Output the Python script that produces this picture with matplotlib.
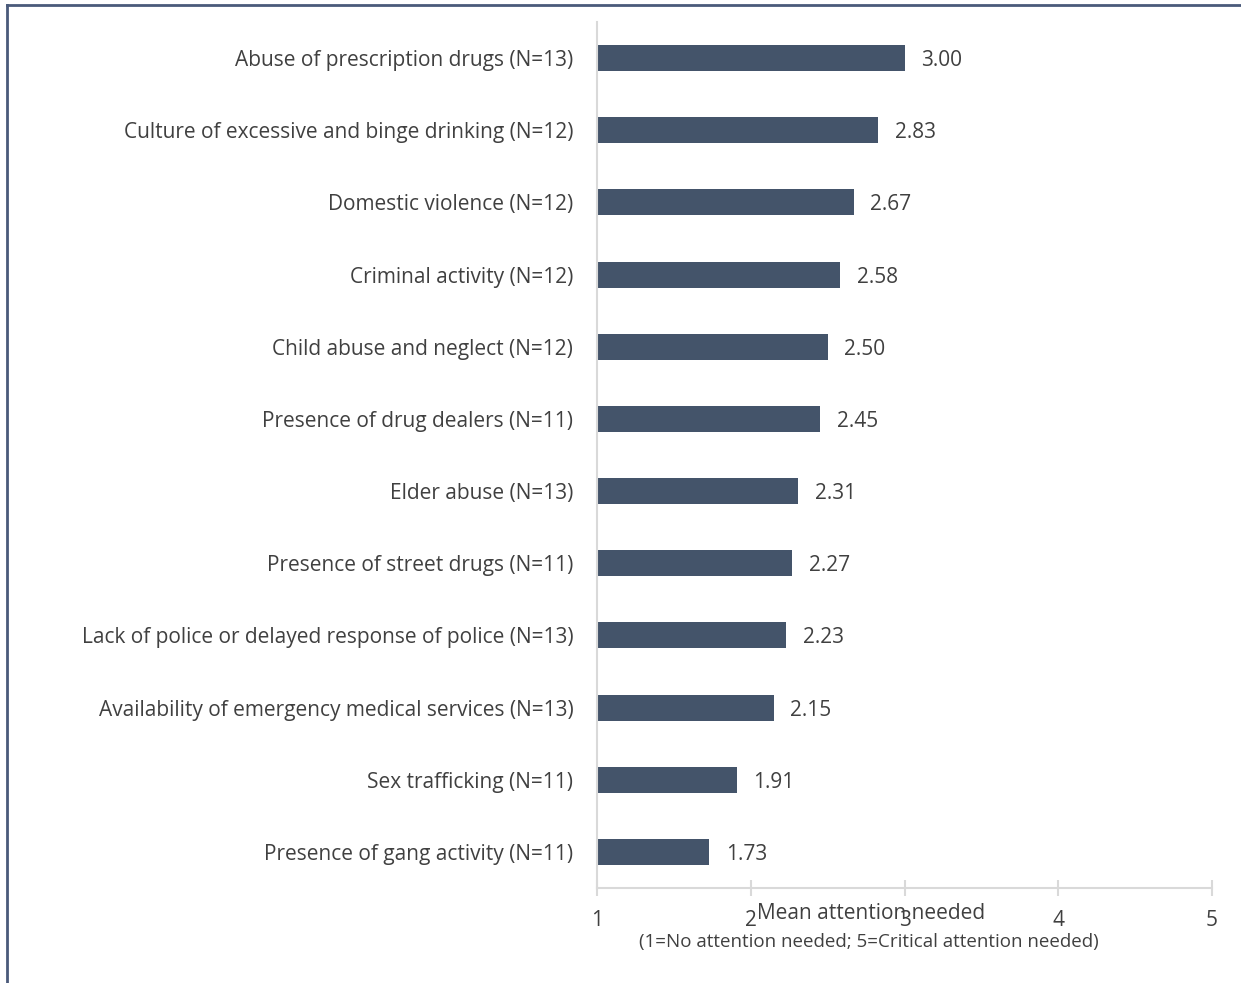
import matplotlib.pyplot as plt
from matplotlib.lines import Line2D

categories = [
    "Abuse of prescription drugs (N=13)",
    "Culture of excessive and binge drinking (N=12)",
    "Domestic violence (N=12)",
    "Criminal activity (N=12)",
    "Child abuse and neglect (N=12)",
    "Presence of drug dealers (N=11)",
    "Elder abuse (N=13)",
    "Presence of street drugs (N=11)",
    "Lack of police or delayed response of police (N=13)",
    "Availability of emergency medical services (N=13)",
    "Sex trafficking (N=11)",
    "Presence of gang activity (N=11)",
]
means = [3.00, 2.83, 2.67, 2.58, 2.50, 2.45, 2.31, 2.27, 2.23, 2.15, 1.91, 1.73]
x_ticks = [1, 2, 3, 4, 5]

bar_color = "#44546a"
text_color = "#404040"
axis_color = "#d9d9d9"

plt.rcParams['font.family'] = ['Open Sans', 'DejaVu Sans']
fs = 15

fig = plt.figure(figsize=(12.41, 9.83), dpi=100)
ax = fig.add_axes([0.481, 0.0966, 0.4957, 0.881])

ypos = list(range(len(categories)))
base = x_ticks[0]
ax.barh(ypos, [m - base for m in means], left=base, height=0.36, color=bar_color)

for y, m in zip(ypos, means):
    ax.annotate(f"{m:.2f}", xy=(m, y), xytext=(12, 0), textcoords="offset points",
                va="center_baseline", ha="left", fontsize=fs, color=text_color)

ax.set_ylim(len(categories) - 0.5, -0.5)
ax.set_xlim(x_ticks[0], x_ticks[-1])
ax.set_yticks(ypos)
ax.set_yticklabels(categories, fontsize=fs, color=text_color)
for lbl in ax.get_yticklabels():
    lbl.set_verticalalignment("center_baseline")
ax.set_xticks(x_ticks)
ax.set_xticklabels([str(t) for t in x_ticks], fontsize=fs, color=text_color)

ax.tick_params(axis="y", length=0, pad=17)
ax.tick_params(axis="x", direction="inout", length=12, width=1.5, color=axis_color, pad=10)
for side in ["top", "right"]:
    ax.spines[side].set_visible(False)
for side in ["left", "bottom"]:
    ax.spines[side].set_color(axis_color)
    ax.spines[side].set_linewidth(1.5)

fig.text(0.702, 0.071, "Mean attention needed", ha="center", va="center",
         fontsize=fs, color=text_color)
fig.text(0.700, 0.042, "(1=No attention needed; 5=Critical attention needed)",
         ha="center", va="center", fontsize=13.5, color=text_color)

# outer frame: left and top edges
fig.add_artist(Line2D([0.0056, 0.0056], [0.0, 0.995], color="#4a5a7a", lw=2,
                      transform=fig.transFigure))
fig.add_artist(Line2D([0.0056, 1.0], [0.995, 0.995], color="#4a5a7a", lw=2,
                      transform=fig.transFigure))

fig.savefig("out.png", dpi=100)
